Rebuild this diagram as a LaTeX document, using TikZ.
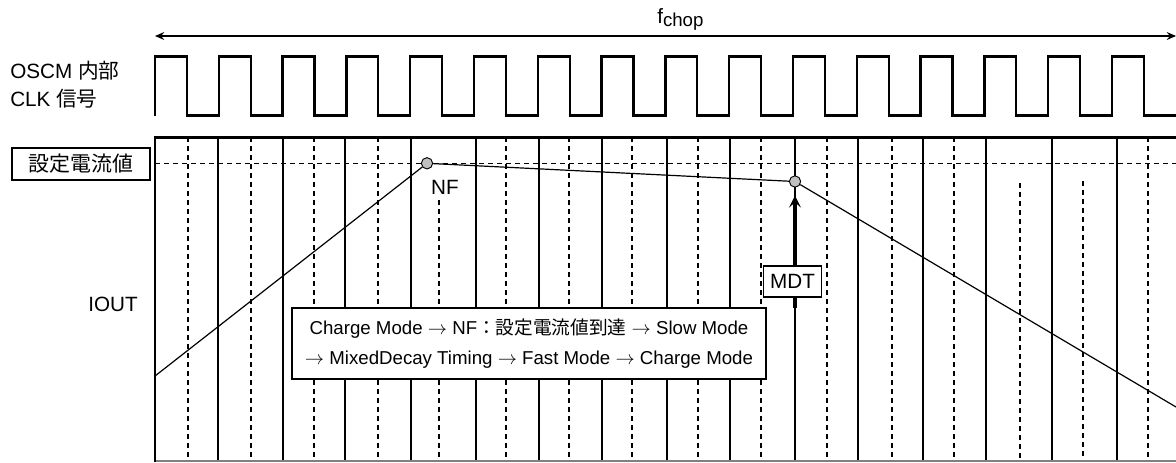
\documentclass[tikz,border=0pt]{standalone}
\usepackage{fontspec}
\setmainfont{Liberation Sans}
\newfontfamily\cjk{Noto Sans CJK JP}
\usetikzlibrary{arrows.meta}
\tikzset{
  clk/.style={line width=1.7pt, line join=miter},
  frame/.style={line width=2pt},
  gsolid/.style={line width=0.8pt},
  gdash/.style={line width=0.8pt, dash pattern=on 3.75pt off 3pt},
  wave/.style={line width=0.9pt},
  dot/.style={circle, draw, line width=0.7pt, fill=gray!50, minimum size=8.5pt, inner sep=0pt},
  lbl/.style={font=\fontsize{15.5}{18}\selectfont, inner sep=0pt},
  boxed/.style={draw, line width=0.8pt, fill=white, inner sep=0pt, font=\fontsize{14}{22.5}\selectfont, align=center},
  dblarrow/.style={line width=0.9pt, {Stealth[length=7pt,width=6pt,inset=2.5pt]}-{Stealth[length=7pt,width=6pt,inset=2.5pt]}},
  mdtarrow/.style={line width=3pt, -{Stealth[length=9pt,width=9pt,inset=4pt]}}
}
\begin{document}
\begin{tikzpicture}[x=0.75pt,y=-0.75pt]
\clip (0,0) rectangle (1176,462);
\fill[white] (0,0) rectangle (1176,462);
% f_chop arrow
\coordinate (aL) at (155,36);
\coordinate (aR) at (1176,36);
\draw[dblarrow] (aL) -- (aR);
\node[lbl, anchor=base west] (fchop) at (657,23) {f\raisebox{-2.5pt}{\fontsize{14}{16}\selectfont chop}};
% clock
\draw[clk] (155,115.5) \foreach \k in {0,...,15}{
  -- ({155+63.8*\k},56.5) -- ({155+63.8*\k+31.9},56.5)
  -- ({155+63.8*\k+31.9},115.5) -- ({155+63.8*(\k+1)},115.5)};
\node[lbl, anchor=base west] (osc1) at (10,78) {OSCM {\cjk 内部}};
\node[lbl, anchor=base west] (osc2) at (10,106) {CLK {\cjk 信号}};
% grid
\foreach \x in {218,283,345,411,476,539,602,667,730,795,858,923,986,1052,1117}
  \draw[gsolid] (\x,137) -- (\x,462);
\foreach \x in {188,251,314,378,506,569,632,698,761,827,892,954,1148}
  \draw[gdash] (\x,137) -- (\x,462);
\draw[gdash] (439,200) -- (439,462);
\draw[gdash] (1020,183) -- (1020,462);
\draw[gdash] (1083,181) -- (1083,462);
\draw[gdash] (155,163.3) -- (1176,163.3);
\draw[line width=0.8pt, gray] (155,461) -- (1176,461);
\draw[frame] (155,462) -- (155,137.3) -- (1176,137.3);
% waveform
\coordinate (w0) at (155,376);
\node[dot] (nf) at (427,163.3) {};
\node[dot] (mdt) at (795,181.5) {};
\coordinate (wend) at (1176,407);
\draw[wave] (w0) -- (nf);
\draw[wave] (nf) -- (mdt);
\draw[wave] (mdt) -- (wend);
\node[lbl] (nflbl) at (445,187) {NF};
% labels
\node[boxed, font=\fontsize{15.7}{18}\selectfont, minimum width=103.5pt, minimum height=24pt] (set) at (81,164) {{\cjk 設定電流値}};
\node[lbl] (iout) at (113,304) {IOUT};
% main box
\node[boxed, minimum width=355.5pt, minimum height=53.25pt] (main) at (529,343.5)
  {Charge Mode $\rightarrow$ NF{\cjk ：設定電流値到達} $\rightarrow$ Slow Mode\\
   $\rightarrow$ MixedDecay Timing $\rightarrow$ Fast Mode $\rightarrow$ Charge Mode};
\coordinate (mdtbase) at (795,308.3);
\draw[mdtarrow, shorten >=6pt] (mdtbase) -- (mdt.south);
\node[boxed, font=\fontsize{15.5}{18}\selectfont, minimum width=44pt, minimum height=23.25pt] (mdtbox) at (792.5,281.5) {MDT};
\end{tikzpicture}
\end{document}
